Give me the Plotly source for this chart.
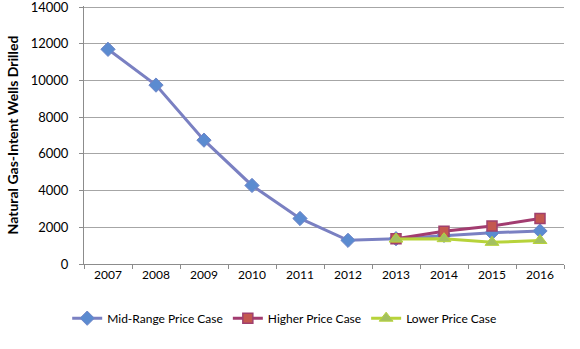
# natural gas-intent wells drilled by price case, 2007-2016
import plotly.graph_objects as go

years = ["2007", "2008", "2009", "2010", "2011", "2012", "2013", "2014", "2015", "2016"]
mid_range = [11700, 9750, 6750, 4280, 2480, 1290, 1380, 1560, 1700, 1800]
higher_years = ["2013", "2014", "2015", "2016"]
higher = [1380, 1790, 2070, 2480]
lower_years = ["2013", "2014", "2015", "2016"]
lower = [1360, 1380, 1180, 1280]

y_ticks = [0, 2000, 4000, 6000, 8000, 10000, 12000, 14000]
y_tick_text = ["0", "2000", "4000", "6000", "8000", "10000", "12000", "14000"]

FONT = "Lato, 'Open Sans', sans-serif"

fig = go.Figure()

fig.add_trace(go.Scatter(
    x=years, y=mid_range, name="Mid-Range Price Case",
    mode="lines+markers",
    line=dict(color="#7a80c2", width=3),
    marker=dict(symbol="diamond", size=11, color="#5b8bd0",
                line=dict(color="#6f86c8", width=1)),
))
fig.add_trace(go.Scatter(
    x=higher_years, y=higher, name="Higher Price Case",
    mode="lines+markers",
    line=dict(color="#a23c70", width=3),
    marker=dict(symbol="square", size=10, color="#c4584f",
                line=dict(color="#a0406e", width=1.5)),
))
fig.add_trace(go.Scatter(
    x=lower_years, y=lower, name="Lower Price Case",
    mode="lines+markers",
    line=dict(color="#b7d33a", width=3),
    marker=dict(symbol="triangle-up", size=12, color="#a3c060",
                line=dict(color="#b7d33a", width=1)),
))

fig.update_layout(
    width=580, height=349,
    margin=dict(l=84, r=16, t=6, b=85),
    paper_bgcolor="white", plot_bgcolor="white",
    font=dict(family=FONT, size=13, color="black"),
    showlegend=True,
    legend=dict(
        orientation="h", x=-0.035, xanchor="left",
        y=-0.21, yanchor="middle",
        font=dict(size=12),
    ),
    xaxis=dict(
        type="category", categoryorder="array", categoryarray=years,
        range=[-0.5, 9.5], automargin=False,
        showgrid=False, showline=True, linecolor="#8c8c8c", linewidth=1,
        ticks="outside", tickson="boundaries", ticklen=4, tickcolor="#8c8c8c",
        tickfont=dict(size=12),
    ),
    yaxis=dict(
        range=[0, 14060], tickvals=y_ticks, ticktext=y_tick_text,
        automargin=False, ticklabeloverflow="allow",
        showgrid=True, gridcolor="#a6a6a6", gridwidth=1,
        showline=True, linecolor="#8c8c8c", linewidth=1,
        ticks="outside", ticklen=4, tickcolor="#8c8c8c",
        ticklabelstandoff=8,
        zeroline=False,
        tickfont=dict(size=13),
        title=dict(text="<b>Natural Gas-Intent Wells Drilled</b>",
                   font=dict(size=14), standoff=8),
    ),
)

# drop the browser's default page margin so the chart sits at the window's corner
fig.write_html(
    "out.html",
    config={"displayModeBar": False},
    post_script="document.body.style.margin = '0';",
)
